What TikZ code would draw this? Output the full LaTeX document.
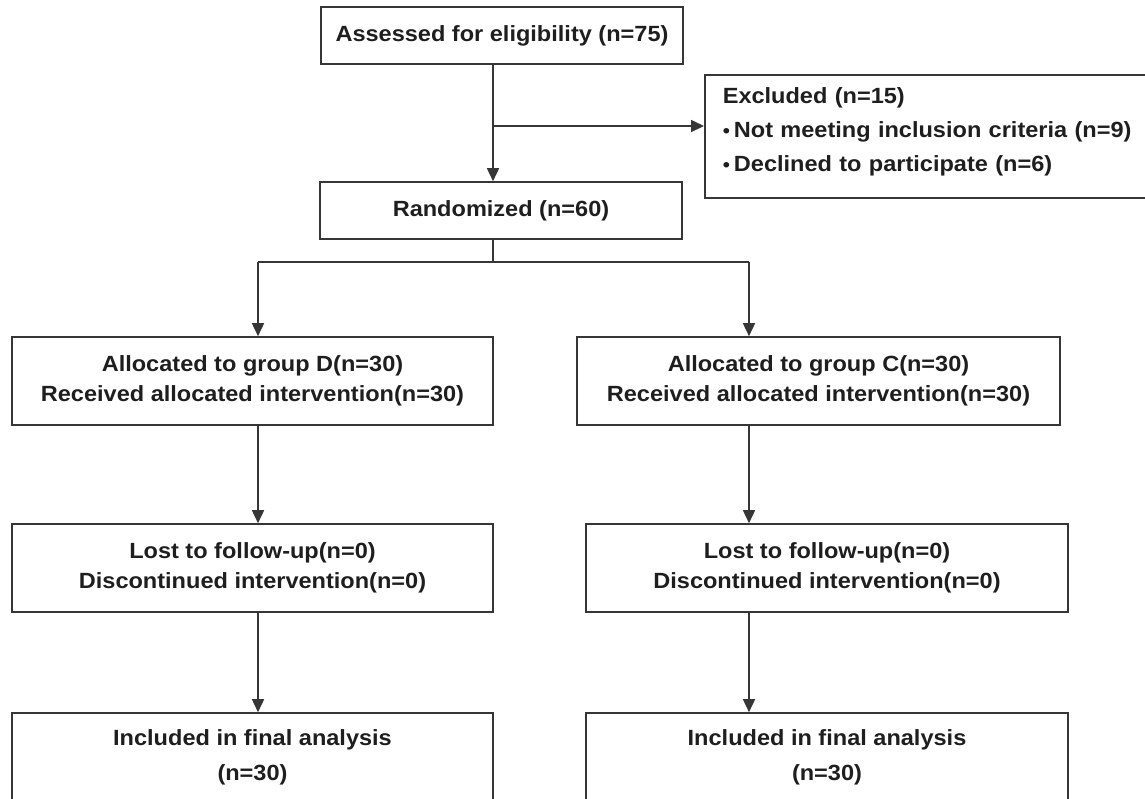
\documentclass[tikz,border=0pt]{standalone}
\usepackage{fontspec}
\setmainfont{Liberation Sans}[FakeStretch=1.07]
\usepackage{tikz}
\usetikzlibrary{calc,arrows.meta}
\definecolor{inkcolor}{HTML}{1E1E1E}
\definecolor{edgecolor}{HTML}{363636}
\newcommand{\thickness}{1.6pt}
\newcommand{\boxfont}{\fontsize{22}{30}\selectfont\bfseries}
\newcommand{\dotitem}{{\fontsize{19}{19}\selectfont\textbullet}\kern4pt}
\tikzset{
  box/.style={draw=edgecolor, line width=\thickness, rectangle, inner sep=0pt,
    align=center, text=inkcolor, font=\boxfont},
  arr/.style={draw=edgecolor, line width=\thickness, -{Triangle[length=13pt,width=12pt]}},
  ln/.style={draw=edgecolor, line width=\thickness}
}

\begin{document}
\begin{tikzpicture}[x=1pt,y=-1pt]
\useasboundingbox (0,0) rectangle (1145,798);
%enrolment
\node[box, minimum width=362, minimum height=57] (assess) at (502, 35.5) {Assessed for eligibility (n=75)};
\node[box, minimum width=362, minimum height=57] (rand) at (501, 210.5) {Randomized (n=60)};
\node[box, anchor=north west, minimum width=445, minimum height=123, text width=409, inner xsep=18, align=left,
  font=\fontsize{22}{34}\selectfont\bfseries] (excl) at (704, 74)
  {Excluded (n=15)\\
   \dotitem Not meeting inclusion criteria (n=9)\\
   \dotitem Declined to participate (n=6)\rule[-13pt]{0pt}{13pt}};
%allocation
\node[box, minimum width=481, minimum height=88] (gD) at (252.5, 381) {Allocated to group D(n=30)\\Received allocated intervention(n=30)};
\node[box, minimum width=483, minimum height=88] (gC) at (818.5, 381) {Allocated to group C(n=30)\\Received allocated intervention(n=30)};
%follow-up
\node[box, minimum width=481, minimum height=88] (lD) at (252.5, 568) {Lost to follow-up(n=0)\\Discontinued intervention(n=0)};
\node[box, minimum width=482, minimum height=88] (lC) at (827, 568) {Lost to follow-up(n=0)\\Discontinued intervention(n=0)};
%analysis
\node[box, minimum width=481, minimum height=88] (iD) at (252.5, 757) {Included in final analysis\\[5pt](n=30)};
\node[box, minimum width=482, minimum height=88] (iC) at (827, 757) {Included in final analysis\\[5pt](n=30)};
%connectors
\coordinate (split) at (493, 126);
\coordinate (fork) at (493, 262);
\coordinate (forkD) at (258, 262);
\coordinate (forkC) at (749, 262);
\draw[arr] (assess.south -| split) -- (rand.north -| split);
\draw[arr] (split) -- (split -| excl.west);
\draw[ln] (rand.south -| fork) -- (fork);
\draw[ln] (forkD) -- (forkC);
\draw[arr] (forkD) -- (forkD |- gD.north);
\draw[arr] (forkC) -- (forkC |- gC.north);
\draw[arr] (gD.south -| forkD) -- (lD.north -| forkD);
\draw[arr] (gC.south -| forkC) -- (lC.north -| forkC);
\draw[arr] (lD.south -| forkD) -- (iD.north -| forkD);
\draw[arr] (lC.south -| forkC) -- (iC.north -| forkC);
\end{tikzpicture}
\end{document}
